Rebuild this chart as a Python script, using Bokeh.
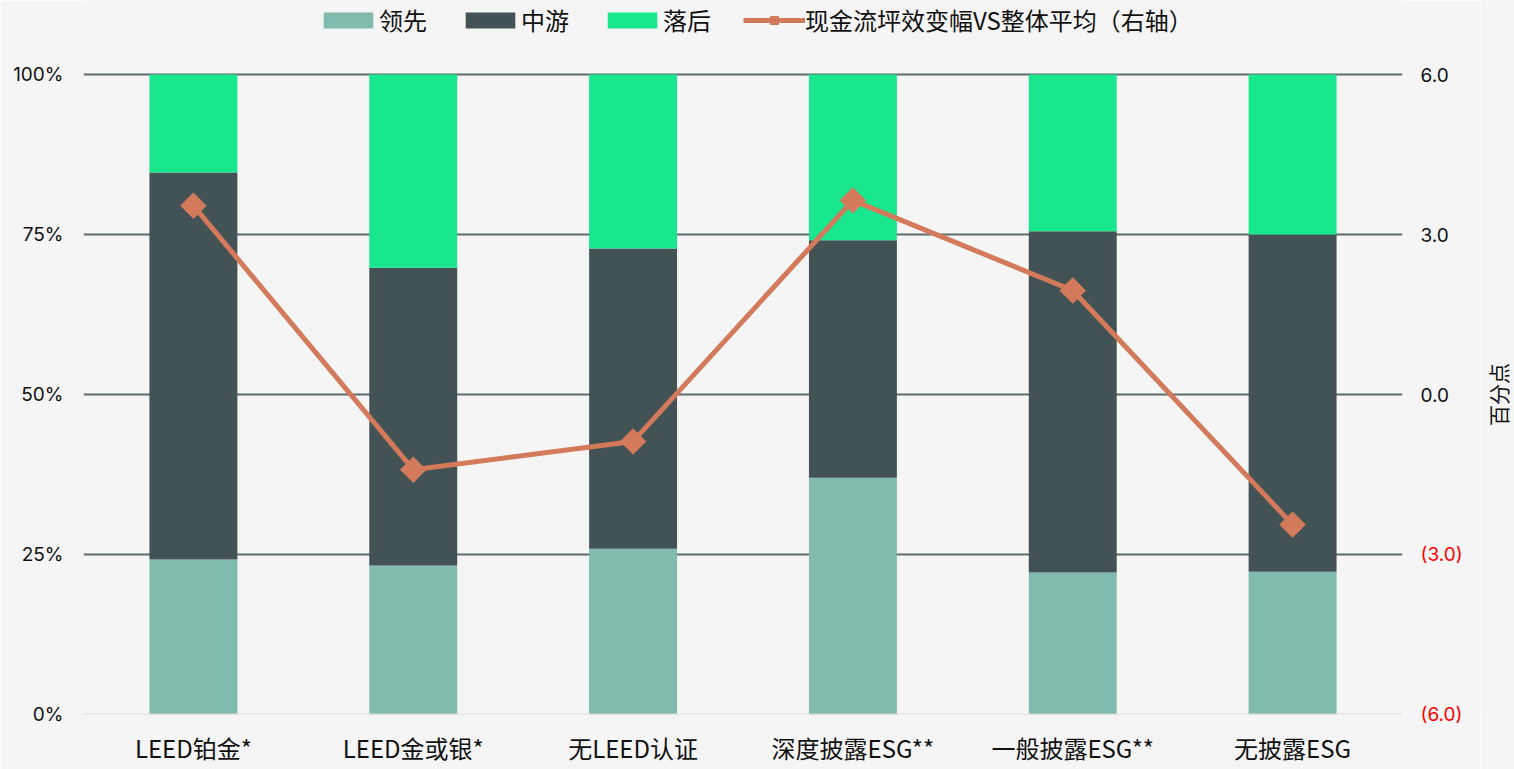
import math
from bokeh.plotting import figure
from bokeh.layouts import row
from bokeh.models import (FactorRange, Range1d, LinearAxis, FixedTicker, NumeralTickFormatter,
                          Legend, LegendItem, Span, ColumnDataSource)
from bokeh.core.properties import value
from bokeh.embed import file_html
from bokeh.resources import INLINE

categories = ["LEED铂金*", "LEED金或银*", "无LEED认证", "深度披露ESG**", "一般披露ESG**", "无披露ESG"]
leading = [24.2, 23.3, 25.9, 37.0, 22.2, 22.3]
middle = [60.5, 46.5, 46.9, 37.1, 53.3, 52.7]
lagging = [15.3, 30.2, 27.2, 25.9, 24.5, 25.0]
change_vs_avg = [3.54, -1.41, -0.88, 3.64, 1.95, -2.44]

left_ticks = [0, 25, 50, 75, 100]
left_tick_labels = ["0%", "25%", "50%", "75%", "100%"]
right_min, right_max = -6, 6
right_pos_ticks = [0, 3, 6]
right_neg_ticks = [-6, -3]
right_neg_labels = ["(6.0)", "(3.0)"]

series_names = ["领先", "中游", "落后"]
line_name = "现金流坪效变幅VS整体平均（右轴）"
right_title = "百分点"

C_LEAD = "#80bbad"
C_MID = "#435254"
C_LAG = "#18e78f"
C_LINE = "#d27a5a"
BG = "#f5f5f5"
TXT = "#111111"
CJK = "Noto Sans CJK SC"
NUM = "Inter"

# The plotting frame reaches the top of the canvas so the legend (drawn inside the frame)
# can sit above the 100% line; the ranges are extended by the same share (74 px of 714 px).
TOP_SHARE = 714 / 640
right_range_end = right_min + (right_max - right_min) * TOP_SHARE

src = ColumnDataSource(dict(cat=categories, lead=leading, mid=middle, lag=lagging, chg=change_vs_avg))

p = figure(x_range=FactorRange(*categories, range_padding=0), y_range=Range1d(0, 100 * TOP_SHARE),
           width=1480, height=769, output_backend="svg", toolbar_location=None,
           min_border_left=83, min_border_right=78, min_border_top=0, min_border_bottom=55,
           background_fill_color=BG, border_fill_color=BG, outline_line_color=None)
p.extra_y_ranges = {"right": Range1d(right_min, right_range_end)}

# grid
p.xgrid.grid_line_color = None
p.ygrid.grid_line_color = "#5d6c6c"
p.ygrid.grid_line_width = 2
p.yaxis.ticker = FixedTicker(ticks=left_ticks)
p.yaxis.major_label_overrides = {t: l for t, l in zip(left_ticks, left_tick_labels)}
zero_line = Span(location=0, dimension="width", line_color="#dadada", line_width=2)
p.add_layout(zero_line)

bars = p.vbar_stack(["lead", "mid", "lag"], x="cat", width=0.4, source=src,
                    color=[C_LEAD, C_MID, C_LAG], line_color=None)

ln = p.line(x="cat", y="chg", source=src, y_range_name="right", line_width=5, color=C_LINE)
mk = p.scatter(x="cat", y="chg", source=src, y_range_name="right", marker="square",
               angle=math.pi / 4, size=18, color=C_LINE)

# axes styling
for ax in [p.xaxis[0], p.yaxis[0]]:
    ax.axis_line_color = None
    ax.major_tick_line_color = None
    ax.minor_tick_line_color = None
p.yaxis.major_label_text_font = NUM
p.yaxis.major_label_text_font_size = "19px"
p.yaxis.major_label_text_color = TXT
p.yaxis.major_label_standoff = 14
p.xaxis.major_label_text_font = CJK
p.xaxis.major_label_text_font_size = "24px"
p.xaxis.major_label_text_color = TXT
p.xaxis.major_label_standoff = 9


def style_right(ax, color):
    ax.axis_line_color = None
    ax.major_tick_line_color = None
    ax.minor_tick_line_color = None
    ax.major_label_text_font = NUM
    ax.major_label_text_font_size = "19px"
    ax.major_label_text_color = color


rax = LinearAxis(y_range_name="right", ticker=FixedTicker(ticks=right_pos_ticks),
                 formatter=NumeralTickFormatter(format="0.0"))
style_right(rax, TXT)
rax.major_label_standoff = 12
p.add_layout(rax, "right")

rax_neg = LinearAxis(y_range_name="right", ticker=FixedTicker(ticks=right_neg_ticks),
                     major_label_overrides={t: l for t, l in zip(right_neg_ticks, right_neg_labels)})
style_right(rax_neg, "#ff0000")
rax_neg.major_label_standoff = -37
p.add_layout(rax_neg, "right")

legend = Legend(items=[LegendItem(label=series_names[0], renderers=[bars[0]]),
                       LegendItem(label=series_names[1], renderers=[bars[1]]),
                       LegendItem(label=series_names[2], renderers=[bars[2]]),
                       LegendItem(label=line_name, renderers=[ln, mk])],
                orientation="horizontal", location=(234, 677))
legend.glyph_width = 62
legend.glyph_height = 20
legend.label_standoff = 0
legend.spacing = 32
legend.padding = 0
legend.margin = 0
legend.background_fill_alpha = 0
legend.border_line_color = None
legend.label_text_font = CJK
legend.label_text_font_size = "24px"
legend.label_text_color = TXT
p.add_layout(legend)

# right-axis title, written bottom-to-top in a thin strip beside the chart
t = figure(width=34, height=769, x_range=Range1d(0, 1), y_range=Range1d(right_min, right_range_end),
           output_backend="svg", toolbar_location=None,
           min_border_left=0, min_border_right=0, min_border_top=0, min_border_bottom=55,
           background_fill_color=BG, border_fill_color=BG, outline_line_color=None)
t.axis.visible = False
t.grid.visible = False
t.text(x=[0.5], y=[(right_min + right_max) / 2], text=[right_title], angle=math.pi / 2,
       text_align="center", text_baseline="middle", text_font=value(CJK),
       text_font_size="21px", text_color=TXT)

layout = row(p, t, spacing=0)
open("out.html", "w").write(file_html(layout, INLINE))
